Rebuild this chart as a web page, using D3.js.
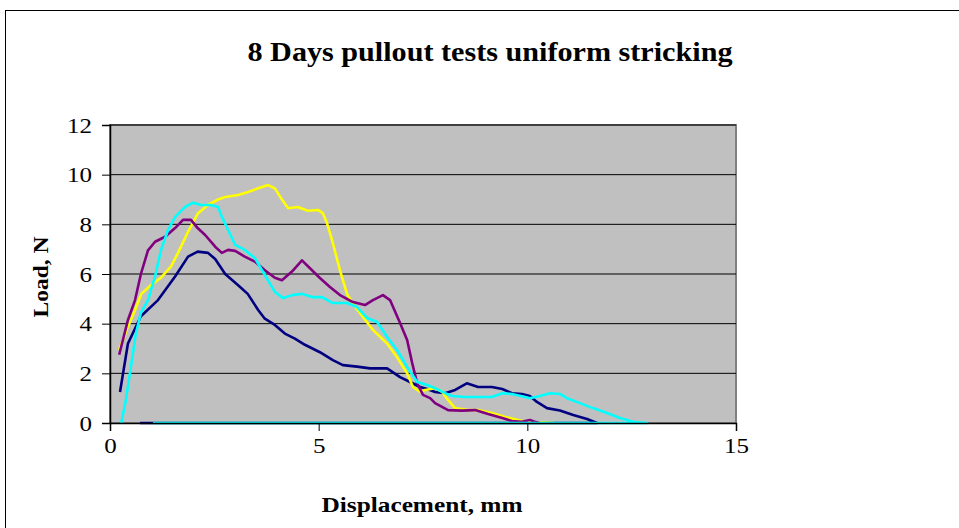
<!DOCTYPE html>
<html><head><meta charset="utf-8">
<script src="https://cdn.jsdelivr.net/npm/d3@7"></script>
<style>body{margin:0;background:#fff}svg{display:block}</style>
</head><body><svg id="c" width="959" height="528"></svg>
<script>
const title = "8 Days pullout tests uniform stricking";
const xLabel = "Displacement, mm";
const yLabel = "Load, N";
const xTicks = [0,5,10,15];
const yTicks = [0,2,4,6,8,10,12];
const seriesNames = ["navy","yellow","purple","cyan"];
const seriesColors = ["#000080","#FFFF00","#800080","#00FFFF"];

const navy = [[0.24,1.25],[0.43,3.2],[0.74,4.3],[1.15,4.95],[1.56,5.9],[1.87,6.7],[2.1,6.9],[2.35,6.85],[2.52,6.6],[2.76,6.0],[3.07,5.55],[3.3,5.2],[3.55,4.55],[3.71,4.2],[3.95,3.95],[4.19,3.6],[4.43,3.4],[4.67,3.15],[4.91,2.95],[5.03,2.85],[5.34,2.53],[5.58,2.33],[5.92,2.27],[6.23,2.2],[6.64,2.2],[6.95,1.85],[7.19,1.65],[7.43,1.45],[7.6,1.37],[7.79,1.25],[8.03,1.2],[8.27,1.33],[8.55,1.6],[8.82,1.45],[9.15,1.45],[9.4,1.37],[9.63,1.2],[9.87,1.17],[10.06,1.09],[10.23,0.85],[10.47,0.6],[10.78,0.5],[11.1,0.32],[11.43,0.16],[11.67,0],[0.72,0]];
const yellow = [[0.22,2.95],[0.43,3.87],[0.6,4.55],[0.75,5.2],[0.98,5.55],[1.22,5.85],[1.46,6.3],[1.63,6.85],[1.87,7.7],[2.11,8.45],[2.35,8.78],[2.59,9.0],[2.76,9.1],[3.07,9.18],[3.31,9.3],[3.55,9.45],[3.79,9.58],[3.95,9.45],[4.12,9.0],[4.27,8.65],[4.5,8.7],[4.74,8.55],[4.98,8.58],[5.1,8.45],[5.2,8.05],[5.34,7.25],[5.51,6.15],[5.68,5.2],[5.82,4.8],[6.06,4.27],[6.3,3.75],[6.64,3.2],[6.88,2.65],[7.12,2.0],[7.26,1.45],[7.43,1.25],[7.55,1.33],[7.79,1.4],[7.96,1.25],[8.1,0.93],[8.27,0.6],[8.58,0.52],[8.82,0.52],[9.15,0.4],[9.47,0.24],[9.78,0.12],[9.95,0.05],[10.65,0]];
const purple = [[0.22,2.75],[0.43,4.15],[0.6,4.95],[0.74,6.0],[0.91,6.95],[1.08,7.3],[1.32,7.5],[1.56,7.85],[1.75,8.18],[1.94,8.18],[2.1,7.85],[2.28,7.57],[2.52,7.1],[2.68,6.85],[2.83,6.97],[3.0,6.93],[3.23,6.7],[3.47,6.5],[3.71,6.15],[3.95,5.85],[4.12,5.75],[4.36,6.1],[4.6,6.55],[4.84,6.15],[5.03,5.84],[5.27,5.48],[5.51,5.15],[5.82,4.87],[6.11,4.75],[6.3,4.95],[6.54,5.15],[6.71,4.95],[6.95,4.03],[7.12,3.34],[7.24,2.42],[7.36,1.6],[7.5,1.13],[7.67,1.0],[7.79,0.8],[8.1,0.52],[8.43,0.5],[8.75,0.52],[9.06,0.36],[9.4,0.2],[9.63,0.08],[9.87,0.05],[10.06,0.12],[10.18,0.05],[10.3,0]];
const cyan = [[0.27,0],[0.38,0.93],[0.5,2.25],[0.62,3.6],[0.74,4.43],[0.91,4.95],[1.08,5.9],[1.22,6.95],[1.39,7.77],[1.56,8.3],[1.8,8.7],[1.99,8.87],[2.18,8.78],[2.42,8.78],[2.59,8.7],[2.68,8.3],[2.83,7.77],[3.0,7.17],[3.23,6.97],[3.47,6.64],[3.71,5.96],[3.95,5.28],[4.15,5.03],[4.36,5.15],[4.6,5.2],[4.84,5.07],[5.08,5.07],[5.34,4.83],[5.68,4.83],[5.92,4.67],[6.16,4.23],[6.4,4.07],[6.64,3.46],[6.88,2.94],[7.12,2.26],[7.36,1.65],[7.6,1.53],[7.79,1.4],[8.03,1.2],[8.2,1.09],[8.5,1.05],[8.82,1.05],[9.15,1.05],[9.4,1.2],[9.63,1.17],[9.95,1.05],[10.06,1.0],[10.3,1.09],[10.54,1.2],[10.78,1.17],[10.95,1.0],[11.26,0.8],[11.57,0.6],[11.91,0.4],[12.22,0.2],[12.53,0.05],[12.87,0],[1.03,0]];
const seriesData = [navy, yellow, purple, cyan];

const svg = d3.select("#c");
const font = "'Liberation Serif','Times New Roman',serif";
const L = 110, R = 736, T = 125, B = 423;
const x = d3.scaleLinear().domain([0,15]).range([L,R]);
const y = d3.scaleLinear().domain([0,12]).range([B,T]);

svg.append("rect").attr("x",5.5).attr("y",10.5).attr("width",1000).attr("height",1000)
  .attr("fill","#fff").attr("stroke","#000").attr("stroke-width",1);

svg.append("rect").attr("x",L).attr("y",T).attr("width",R-L).attr("height",B-T)
  .attr("fill","#C0C0C0").attr("stroke","#808080").attr("stroke-width",2);

svg.append("g").selectAll("line").data(yTicks.filter(d=>d>0)).join("line")
  .attr("x1",L).attr("x2",R).attr("y1",d=>y(d)).attr("y2",d=>y(d))
  .attr("stroke","#000").attr("stroke-width",1);

const lineRaw = d3.line().x(d=>x(d[0])).y(d=>y(d[1]));
svg.append("g").selectAll("path").data(seriesData).join("path")
  .attr("d",lineRaw).attr("fill","none")
  .attr("stroke",(d,i)=>seriesColors[i]).attr("stroke-width",2.6)
  .attr("stroke-linejoin","round");

const xAxis = svg.append("g").attr("transform",`translate(0,${B})`)
  .call(d3.axisBottom(x).tickValues(xTicks).tickSize(8).tickPadding(6).tickFormat(d3.format("d")));
const yAxis = svg.append("g").attr("transform",`translate(${L},0)`)
  .call(d3.axisLeft(y).tickValues(yTicks).tickSize(8).tickPadding(10).tickFormat(d3.format("d")));
[xAxis,yAxis].forEach(g=>{
  g.select(".domain").attr("stroke","#000").attr("stroke-width",1.5);
  g.selectAll(".tick line").attr("stroke","#000");
  g.selectAll("text").attr("font-family",font).attr("font-size",22).attr("fill","#000")
    .attr("textLength",function(){return 12.5*this.textContent.length;})
    .attr("lengthAdjust","spacingAndGlyphs");
});

svg.append("text").attr("x",490).attr("y",61).attr("text-anchor","middle")
  .attr("font-family",font).attr("font-weight","bold").attr("font-size",28)
  .attr("textLength",485).attr("lengthAdjust","spacingAndGlyphs").text(title);
svg.append("text").attr("x",422).attr("y",512).attr("text-anchor","middle")
  .attr("font-family",font).attr("font-weight","bold").attr("font-size",22)
  .attr("textLength",201).attr("lengthAdjust","spacingAndGlyphs").text(xLabel);
svg.append("text").attr("transform","translate(48,277) rotate(-90)").attr("text-anchor","middle")
  .attr("font-family",font).attr("font-weight","bold").attr("font-size",22)
  .attr("textLength",81).attr("lengthAdjust","spacingAndGlyphs").text(yLabel);
</script></body></html>
